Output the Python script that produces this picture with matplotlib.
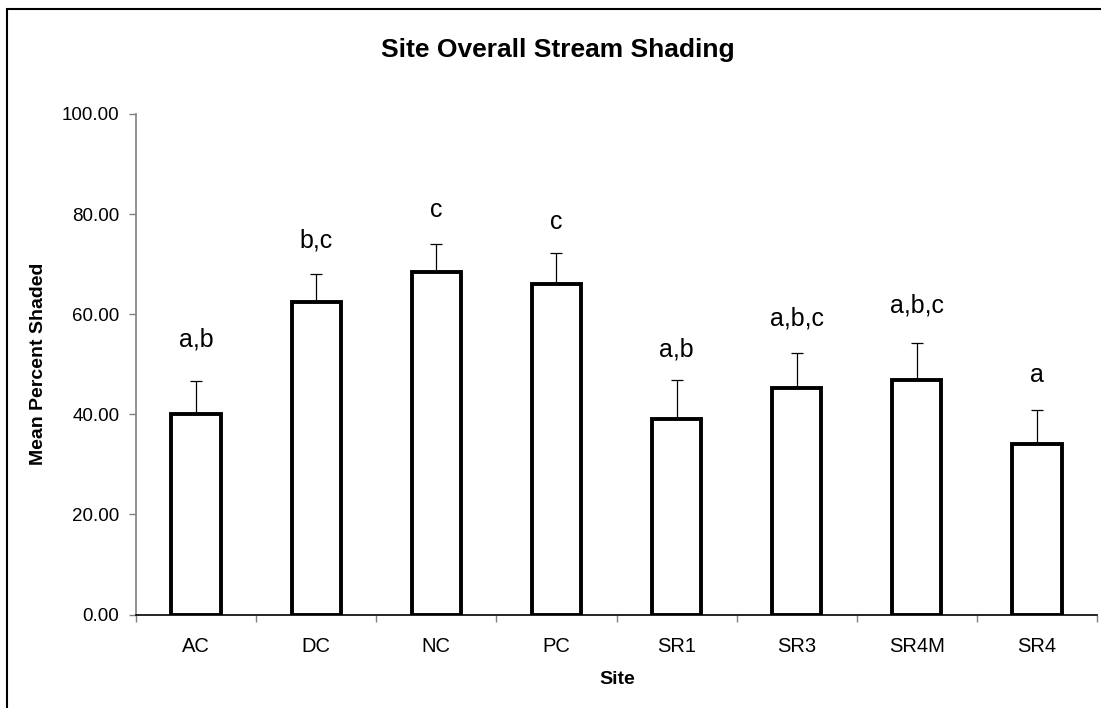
import matplotlib
matplotlib.use("Agg")
import matplotlib.pyplot as plt
from matplotlib.patches import Rectangle

sites = ["AC", "DC", "NC", "PC", "SR1", "SR3", "SR4M", "SR4"]
means = [40.1, 62.4, 68.5, 66.1, 39.1, 45.2, 46.8, 34.1]
errors = [6.5, 5.6, 5.6, 6.2, 7.8, 7.0, 7.5, 6.7]
letters = ["a,b", "b,c", "c", "c", "a,b", "a,b,c", "a,b,c", "a"]
letter_y = [55.0, 74.7, 80.8, 78.5, 52.9, 59.2, 61.7, 47.9]
yticks = [0, 20, 40, 60, 80, 100]

plt.rcParams['font.family'] = ['Liberation Sans', 'DejaVu Sans']

W, H = 1101, 708
fig = plt.figure(figsize=(W / 100, H / 100), dpi=100)
ax = fig.add_axes([136 / W, 1 - 614.5 / H, (1097 - 136) / W, (614.5 - 114) / H])

x = list(range(len(sites)))
ax.bar(x, means, width=0.41, color="white", edgecolor="black", linewidth=2.8, zorder=3)
ax.errorbar(x, means, yerr=[[0] * len(errors), errors], fmt="none", ecolor="black",
            elinewidth=0.9, capsize=4.5, capthick=0.9, zorder=2)
for xi, ly, t in zip(x, letter_y, letters):
    ax.text(xi, ly, t, ha="center", va="center", fontsize=18)

ax.set_xlim(-0.5, len(sites) - 0.5)
ax.set_ylim(0, 100)
ax.set_yticks(yticks)
ax.set_yticklabels([f"{v:.2f}" for v in yticks], fontsize=13.5)
ax.set_xticks(x)
ax.set_xticklabels(sites, fontsize=14.5)
ax.set_xticks([i - 0.5 for i in range(len(sites) + 1)], minor=True)
ax.tick_params(axis="x", which="major", length=0, pad=16)
ax.tick_params(axis="x", which="minor", length=5, width=1, color="#808080", direction="out")
ax.tick_params(axis="y", length=5, width=1, color="#808080", direction="out", pad=7)

for s in ["top", "right"]:
    ax.spines[s].set_visible(False)
ax.spines["left"].set_color("#808080")
ax.spines["left"].set_linewidth(1.2)
ax.spines["bottom"].set_color("black")
ax.spines["bottom"].set_linewidth(1.2)

fig.text(558 / W, 1 - 50 / H, "Site Overall Stream Shading", ha="center", va="center",
         fontsize=19, fontweight="bold")
fig.text(39 / W, 1 - 364 / H, "Mean Percent Shaded", ha="center", va="center",
         rotation=90, fontsize=14, fontweight="bold")
fig.text(617 / W, 1 - 679 / H, "Site", ha="center", va="center",
         fontsize=14, fontweight="bold")

frame = Rectangle((7 / W, -0.02), 1.05, 1 - 9 / H + 0.02, transform=fig.transFigure,
                  fill=False, edgecolor="black", linewidth=1.5)
fig.patches.append(frame)

fig.savefig("out.png", dpi=100)
